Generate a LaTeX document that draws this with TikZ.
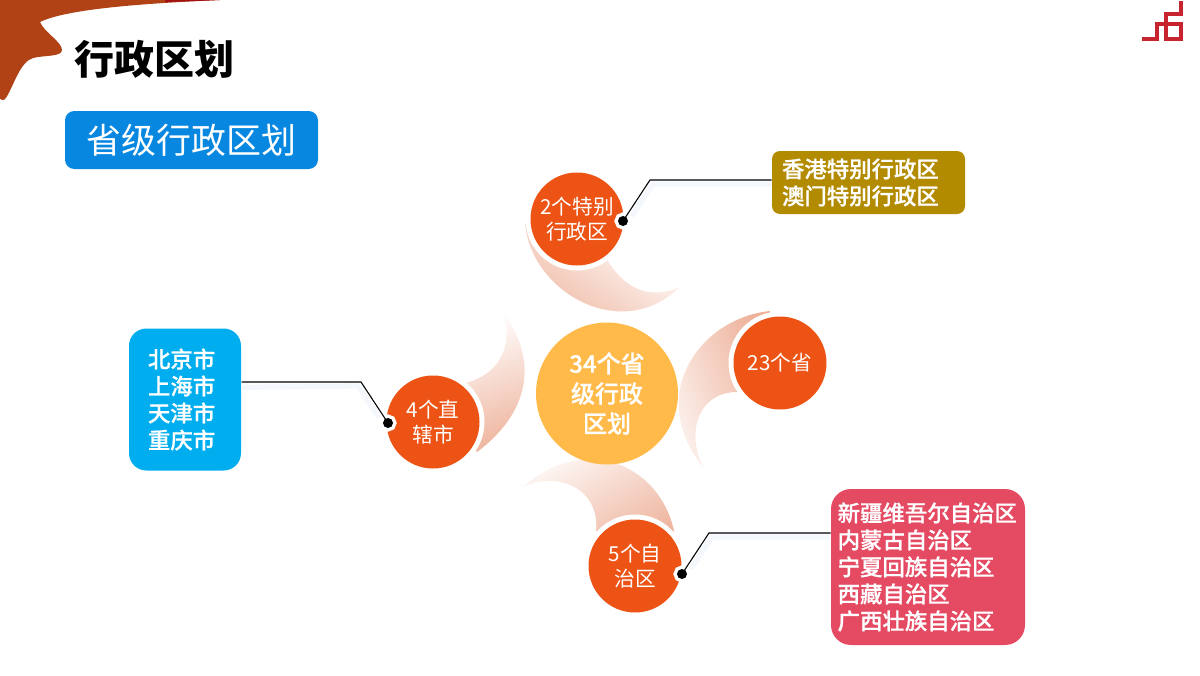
\documentclass[tikz,border=0pt]{standalone}
\usepackage{fontspec}
\setmainfont{Noto Sans CJK SC}
\newfontfamily\medfont[FakeBold=0.7]{Noto Sans CJK SC Medium}
\definecolor{bannerbrown}{RGB}{176,66,22}
\definecolor{bannerred}{RGB}{160,16,20}
\definecolor{logored}{RGB}{200,36,47}
\definecolor{subblue}{RGB}{8,135,224}
\definecolor{cityblue}{RGB}{0,173,239}
\definecolor{sargold}{RGB}{178,139,0}
\definecolor{autopink}{RGB}{228,74,98}
\definecolor{corefill}{RGB}{255,186,73}
\definecolor{armorange}{RGB}{236,83,20}
\definecolor{armfade}{RGB}{238,178,155}
\definecolor{shadowblue}{RGB}{244,247,252}
\tikzset{every picture/.style={line width=0.75pt}}
\tikzset{
	armcircle/.style={circle,fill=armorange,text=white,inner sep=0pt,minimum size=69.75pt,align=center,
		font=\fontsize{15.5}{18.75}\selectfont,preaction={draw=white,line width=7.5pt}},
	infobox/.style={rounded corners=#1,text=white,inner sep=0pt,align=left,
		font=\fontsize{16.8}{20.25}\medfont},
	dotmark/.style={circle,fill=black,inner sep=0pt,minimum size=7.5pt,preaction={draw=white,line width=5.25pt}},
	leader/.style={draw=black,line width=0.8pt},
	leadershadow/.style={draw=shadowblue,line width=4pt},
	crescent/.style={left color=armfade,right color=white,draw=none}
}

\begin{document}
\begin{tikzpicture}[x=0.75pt,y=0.75pt,yscale=-1,xscale=1]
	\useasboundingbox (0,0) rectangle (1200,675);

	%banner
	\fill [bannerbrown] (0,0) -- (220,0) .. controls (130,4) and (65,10) .. (40,22) .. controls (44,32) and (62,42) .. (62,50) .. controls (62,57) and (45,55) .. (33,58) .. controls (20,62) and (14,85) .. (6,98) .. controls (4,101) and (1,100) .. (0,99) -- cycle;
	\fill [bannerred] (165,0) -- (220,0) .. controls (200,1) and (180,1.5) .. (165,2) -- cycle;
	%logo
	\draw [logored,line width=2.4pt] (1142,39) -- (1157,39) -- (1157,24) -- (1181,24) -- (1181,39) -- (1166,39) -- (1166,14) -- (1181,14) -- (1181,1);

	% Text Node
	\node (title) at (154.5,59) [font=\fontsize{30}{34}\bfseries\selectfont] {行政区划};
	\node (subtitle) at (191.5,140) [fill=subblue,rounded corners=7pt,text=white,minimum width=189.75pt,minimum height=43.5pt,inner sep=0pt,font=\fontsize{26.2}{30}\selectfont] {省级行政区划};

	%crescents
	\path [crescent,shading angle=145] (525,223) .. controls (530,290) and (620,345) .. (680,287) .. controls (650,300) and (625,290) .. (606,258) -- (560,230) -- cycle;
	\path [crescent,shading angle=200] (477,452) .. controls (520,420) and (545,370) .. (503,312) .. controls (512,340) and (505,372) .. (466,383) -- (450,420) -- cycle;
	\path [crescent,shading angle=-70] (770,311) .. controls (700,318) and (645,395) .. (703,467) .. controls (685,430) and (700,392) .. (737,392) -- (770,360) -- cycle;
	\path [crescent,shading angle=-150] (674,531) .. controls (660,465) and (585,432) .. (523,487) .. controls (560,470) and (600,490) .. (596,531) -- (635,560) -- cycle;

	%circles
	\node (core) at (607,393.5) [circle,fill=corefill,text=white,minimum size=106.5pt,inner sep=0pt,align=center,font=\fontsize{18}{22.5}\medfont] {34个省\\级行政\\区划};
	\node (special) at (577,219) [armcircle] {2个特别\\行政区};
	\node (province) at (780,363) [armcircle] {23个省};
	\node (city) at (433,422) [armcircle] {4个直\\辖市};
	\node (auto) at (635,566) [armcircle] {5个自\\治区};

	%boxes
	\node (citybox) at (185,399.5) [infobox=13pt,fill=cityblue,text width=55.5pt,minimum height=106.5pt,inner xsep=14.25pt] {北京市\\上海市\\天津市\\重庆市};
	\node (sarbox) at (868.5,182.5) [infobox=6pt,fill=sargold,text width=129.75pt,minimum height=47.25pt,inner xsep=7.5pt] {香港特别行政区\\澳门特别行政区};
	\node (autobox) at (928,567) [infobox=15pt,fill=autopink,text width=135.5pt,minimum height=117pt,inner xsep=5pt] {新疆维吾尔自治区\\内蒙古自治区\\宁夏回族自治区\\西藏自治区\\广西壮族自治区};

	%dots
	\node (specialdot) at (623,221) [dotmark] {};
	\node (citydot) at (388,423) [dotmark] {};
	\node (autodot) at (682,574) [dotmark] {};
	\coordinate (specialbend) at (650,180);
	\coordinate (citybend) at (361,382);
	\coordinate (autobend) at (709,533);

	%Straight Lines
	\draw [leadershadow,shorten <=8pt] ([shift={(3,4)}]specialdot.center) -- ([shift={(3,4)}]specialbend) -- ([yshift=3]sarbox.west |- specialbend);
	\draw [leadershadow,shorten >=8pt] ([yshift=4]citybox.east |- citybend) -- ([shift={(-3,4)}]citybend) -- ([shift={(-3,4)}]citydot.center);
	\draw [leadershadow,shorten <=8pt] ([shift={(3,4)}]autodot.center) -- ([shift={(3,4)}]autobend) -- ([yshift=3]autobox.west |- autobend);
	\draw [leader] (specialdot.center) -- (specialbend) -- (sarbox.west |- specialbend);
	\draw [leader] (citybox.east |- citybend) -- (citybend) -- (citydot.center);
	\draw [leader] (autodot.center) -- (autobend) -- (autobox.west |- autobend);
\end{tikzpicture}
\end{document}
